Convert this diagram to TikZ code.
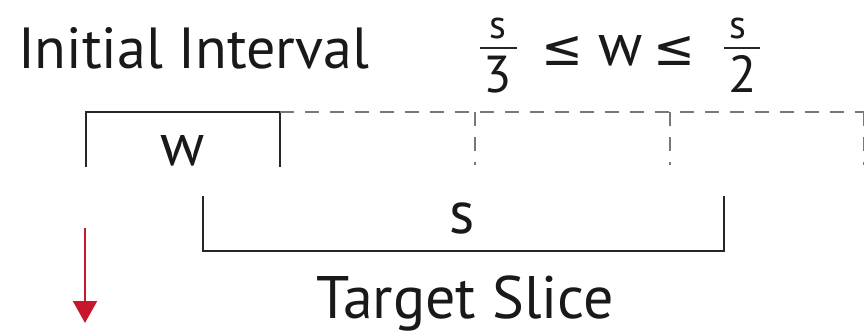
\documentclass[tikz,border=0pt]{standalone}
\usepackage{fontspec}
\setmainfont{PT Sans}
\newfontfamily\symfont{DejaVu Sans}
\usetikzlibrary{arrows.meta}
\definecolor{arrowred}{RGB}{200,22,45}
\definecolor{dashgray}{RGB}{120,120,120}
\begin{document}
\begin{tikzpicture}[x=1pt,y=-1pt,
  txt/.style={inner sep=0pt,outer sep=0pt,text=black!90},
  big/.style={txt,font=\fontsize{60}{60}\selectfont},
  lesym/.style={txt,font=\symfont\fontsize{50}{50}\selectfont,anchor=base},
  solidline/.style={line width=2.4pt,draw=black!85},
  dashline/.style={line width=2.4pt,draw=dashgray,dash pattern=on 14pt off 11pt}]
\useasboundingbox (0,0) rectangle (864,333);
% title
\node[txt,font=\fontsize{58}{58}\selectfont,anchor=base west] (title) at (18,68) {Initial Interval};
% inequality
\node[txt,font=\fontsize{40}{40}\selectfont,anchor=base] (s1) at (498,38) {s};
\coordinate (b1l) at (480,48); \coordinate (b1r) at (517,48);
\draw[line width=2.2pt,black!85] (b1l) -- (b1r);
\node[txt,font=\fontsize{52}{52}\selectfont,anchor=base] (d3) at (498,92) {3};
\node[lesym] (le1) at (562,65) {≤};
\node[big,anchor=base] (wq) at (621,65) {w};
\node[lesym] (le2) at (674,65) {≤};
\node[txt,font=\fontsize{40}{40}\selectfont,anchor=base] (s2) at (738,38) {s};
\coordinate (b2l) at (724,48); \coordinate (b2r) at (760,48);
\draw[line width=2.2pt,black!85] (b2l) -- (b2r);
\node[txt,font=\fontsize{52}{52}\selectfont,anchor=base] (d2) at (743,92) {2};
% initial interval box
\coordinate (wl) at (86,167); \coordinate (wtl) at (86,112);
\coordinate (wtr) at (280,112); \coordinate (wr) at (280,167);
\draw[solidline] (wl) -- (wtl) -- (wtr) -- (wr);
\node[big,anchor=base] (w) at (183,165) {w};
% dashed continuation
\coordinate (dend) at (866,112);
\draw[dashline] (wtr) -- (dend);
\coordinate (v1t) at (475,112); \coordinate (v1b) at (475,165);
\coordinate (v2t) at (670,112); \coordinate (v2b) at (670,165);
\coordinate (v3t) at (864,112); \coordinate (v3b) at (864,165);
\draw[dashline] (v1t) -- (v1b);
\draw[dashline] (v2t) -- (v2b);
\draw[dashline] (v3t) -- (v3b);
% target slice bracket
\coordinate (tl) at (203,196); \coordinate (tbl) at (203,251);
\coordinate (tbr) at (724,251); \coordinate (tr) at (724,196);
\draw[solidline] (tl) -- (tbl) -- (tbr) -- (tr);
\node[big,anchor=base] (s) at (462,233) {s};
\node[big,anchor=base west] (target) at (316,318) {Target Slice};
% red arrow
\coordinate (at) at (85,228); \coordinate (ab) at (85,323);
\draw[line width=2pt,arrowred,-{Triangle[length=22pt,width=24pt]}] (at) -- (ab);
\end{tikzpicture}
\end{document}
